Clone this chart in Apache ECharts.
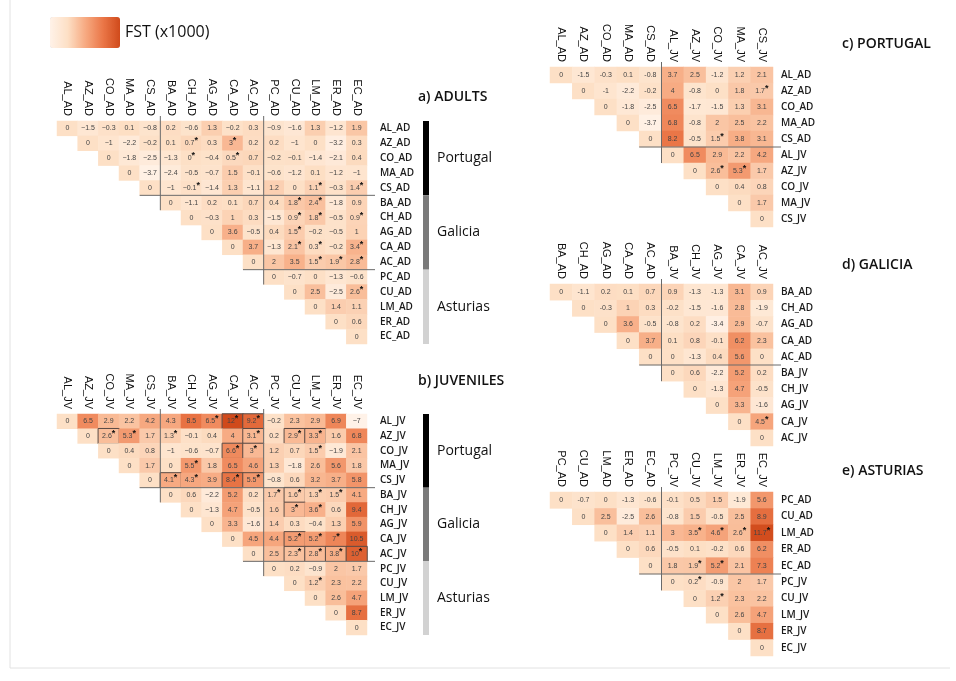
<!DOCTYPE html>
<html><head><meta charset="utf-8">
<script src="https://cdn.jsdelivr.net/npm/echarts@6/dist/echarts.min.js"></script>
<style>html,body{margin:0;padding:0;background:#fff}#c{width:956px;height:681px}</style>
</head><body><div id="c"></div>
<script>
// ---------- DATA ----------
const adultsLabels = ['AL_AD','AZ_AD','CO_AD','MA_AD','CS_AD','BA_AD','CH_AD','AG_AD','CA_AD','AC_AD','PC_AD','CU_AD','LM_AD','ER_AD','EC_AD'];
const adultsRows = [
  [0,-1.5,-0.3,0.1,-0.8,0.2,-0.6,1.3,-0.2,0.3,-0.9,-1.6,1.3,-1.2,1.9],
  [0,-1,-2.2,-0.2,0.1,0.7,0.3,3,0.2,0.2,-1,0,-3.2,0.3],
  [0,-1.8,-2.5,-1.3,0,-0.4,0.5,0.7,-0.2,-0.1,-1.4,-2.1,0.4],
  [0,-3.7,-2.4,-0.5,-0.7,1.5,-0.1,-0.6,-1.2,0.1,-1.2,-1],
  [0,-1,-0.1,-1.4,1.3,-1.1,1.2,0,1.1,-0.3,1.4],
  [0,-1.1,0.2,0.1,0.7,0.4,1.8,2.4,-1.8,0.9],
  [0,-0.3,1,0.3,-1.5,0.9,1.8,-0.5,0.9],
  [0,3.6,-0.5,0.4,1.5,-0.2,-0.5,1],
  [0,3.7,-1.3,2.1,0.3,-0.2,3.4],
  [0,2,3.5,1.5,1.9,2.8],
  [0,-0.7,0,-1.3,-0.6],
  [0,2.5,-2.5,2.6],
  [0,1.4,1.1],
  [0,0.6],
  [0]
];
const adultsStars = ['AZ_AD|CH_AD','AZ_AD|CA_AD','CO_AD|CH_AD','CO_AD|CA_AD','CS_AD|CH_AD','CS_AD|LM_AD','CS_AD|EC_AD',
  'BA_AD|CU_AD','BA_AD|LM_AD','CH_AD|CU_AD','CH_AD|LM_AD','CH_AD|EC_AD','AG_AD|CU_AD','CA_AD|CU_AD','CA_AD|LM_AD','CA_AD|EC_AD',
  'AC_AD|LM_AD','AC_AD|ER_AD','AC_AD|EC_AD','CU_AD|EC_AD'];

const juvLabels = ['AL_JV','AZ_JV','CO_JV','MA_JV','CS_JV','BA_JV','CH_JV','AG_JV','CA_JV','AC_JV','PC_JV','CU_JV','LM_JV','ER_JV','EC_JV'];
const juvRows = [
  [0,6.5,2.9,2.2,4.2,4.3,8.5,6.5,12,9.2,-0.2,2.3,2.9,6.9,-7],
  [0,2.6,5.3,1.7,1.3,-0.1,0.4,4,3.1,0.2,2.9,3.3,1.6,6.8],
  [0,0.4,0.8,-1,-0.6,-0.7,6.6,3,1.2,0.7,1.5,-1.9,2.1],
  [0,1.7,0,5.5,1.8,6.5,4.6,1.3,-1.8,2.6,5.6,1.8],
  [0,4.1,4.3,3.9,8.4,5.5,-0.8,0.6,3.2,3.7,5.8],
  [0,0.6,-2.2,5.2,0.2,1.7,1.6,1.3,1.5,4.1],
  [0,-1.3,4.7,-0.5,1.6,3,3.6,0.6,9.4],
  [0,3.3,-1.6,1.4,0.3,-0.4,1.3,5.9],
  [0,4.5,4.4,5.2,5.2,7,10.5],
  [0,2.5,2.3,2.8,3.8,10],
  [0,0.2,-0.9,2,1.7],
  [0,1.2,2.3,2.2],
  [0,2.6,4.7],
  [0,8.7],
  [0]
];
const juvStars = ['AL_JV|AG_JV','AL_JV|CA_JV','AL_JV|AC_JV','AZ_JV|CO_JV','AZ_JV|MA_JV','AZ_JV|BA_JV','AZ_JV|AC_JV','AZ_JV|CU_JV','AZ_JV|LM_JV',
  'CO_JV|CA_JV','CO_JV|AC_JV','CO_JV|LM_JV','MA_JV|CH_JV','CS_JV|BA_JV','CS_JV|CH_JV','CS_JV|CA_JV','CS_JV|AC_JV',
  'BA_JV|PC_JV','BA_JV|CU_JV','BA_JV|LM_JV','BA_JV|ER_JV','CH_JV|CU_JV','CH_JV|LM_JV','CA_JV|CU_JV','CA_JV|LM_JV','CA_JV|ER_JV',
  'AC_JV|CU_JV','AC_JV|LM_JV','AC_JV|ER_JV','AC_JV|EC_JV','CU_JV|LM_JV'];
const juvBoxed = ['AL_JV|CA_JV','AL_JV|AC_JV','AZ_JV|CO_JV','AZ_JV|AC_JV','AZ_JV|CU_JV','AZ_JV|LM_JV','CO_JV|CA_JV','CO_JV|AC_JV',
  'CS_JV|BA_JV','CS_JV|CA_JV','CS_JV|AC_JV','BA_JV|CU_JV','CH_JV|CU_JV','CA_JV|CU_JV','AC_JV|CU_JV','AC_JV|LM_JV','AC_JV|ER_JV','AC_JV|EC_JV'];

const portLabels = ['AL_AD','AZ_AD','CO_AD','MA_AD','CS_AD','AL_JV','AZ_JV','CO_JV','MA_JV','CS_JV'];
const portRows = [
  [0,-1.5,-0.3,0.1,-0.8,3.7,2.5,-1.2,1.2,2.1],
  [0,-1,-2.2,-0.2,4,-0.8,0,1.8,1.7],
  [0,-1.8,-2.5,6.5,-1.7,-1.5,1.3,3.1],
  [0,-3.7,6.8,-0.8,2,2.5,2.2],
  [0,8.2,-0.5,1.5,3.8,3.1],
  [0,6.5,2.9,2.2,4.2],
  [0,2.6,5.3,1.7],
  [0,0.4,0.8],
  [0,1.7],
  [0]
];
const portStars = ['AZ_AD|CS_JV','CS_AD|CO_JV','AZ_JV|CO_JV','AZ_JV|MA_JV'];

const galLabels = ['BA_AD','CH_AD','AG_AD','CA_AD','AC_AD','BA_JV','CH_JV','AG_JV','CA_JV','AC_JV'];
const galRows = [
  [0,-1.1,0.2,0.1,0.7,0.9,-1.3,-1.3,3.1,0.9],
  [0,-0.3,1,0.3,-0.2,-1.5,-1.6,2.8,-1.9],
  [0,3.6,-0.5,-0.8,0.2,-3.4,2.9,-0.7],
  [0,3.7,0.1,0.8,-0.1,6.2,2.3],
  [0,0,-1.3,0.4,5.6,0],
  [0,0.6,-2.2,5.2,0.2],
  [0,-1.3,4.7,-0.5],
  [0,3.3,-1.6],
  [0,4.5],
  [0]
];
const galStars = ['CA_JV|AC_JV'];

const astLabels = ['PC_AD','CU_AD','LM_AD','ER_AD','EC_AD','PC_JV','CU_JV','LM_JV','ER_JV','EC_JV'];
const astRows = [
  [0,-0.7,0,-1.3,-0.6,-0.1,0.5,1.5,-1.9,5.6],
  [0,2.5,-2.5,2.6,-0.8,1.5,-0.5,2.5,8.9],
  [0,1.4,1.1,3,3.5,4.6,2.6,11.7],
  [0,0.6,-0.5,0.1,-0.2,0.6,6.2],
  [0,1.8,1.9,5.2,2.1,7.3],
  [0,0.2,-0.9,2,1.7],
  [0,1.2,2.3,2.2],
  [0,2.6,4.7],
  [0,8.7],
  [0]
];
const astStars = ['LM_AD|CU_JV','LM_AD|LM_JV','LM_AD|ER_JV','LM_AD|EC_JV','EC_AD|CU_JV','EC_AD|LM_JV','PC_JV|CU_JV','CU_JV|LM_JV'];

const groupNames = ['Portugal','Galicia','Asturias'];
const groupSizesBig = [5,5,5];
const groupSizesSmall = [5,5];
const panelTitles = ['a) ADULTS','b) JUVENILES','c) PORTUGAL','d) GALICIA','e) ASTURIAS'];
const legendTitle = 'FST (x1000)';

// ---------- BUILD ----------
const panels = [
  {labels: adultsLabels, rows: adultsRows, stars: adultsStars, boxed: [], groups: groupSizesBig, minus:'\u2212',
   grid:{left:57, top:121, width:310, height:223}, fs:7},
  {labels: juvLabels, rows: juvRows, stars: juvStars, boxed: juvBoxed, groups: groupSizesBig, minus:'\u2212',
   grid:{left:57, top:414, width:310, height:221}, fs:7},
  {labels: portLabels, rows: portRows, stars: portStars, boxed: [], groups: groupSizesSmall, minus:'-',
   grid:{left:550, top:67, width:223, height:160}, fs:7},
  {labels: galLabels, rows: galRows, stars: galStars, boxed: [], groups: groupSizesSmall, minus:'-',
   grid:{left:550, top:284, width:223, height:162}, fs:7},
  {labels: astLabels, rows: astRows, stars: astStars, boxed: [], groups: groupSizesSmall, minus:'-',
   grid:{left:550, top:492, width:223, height:164}, fs:7}
];

const grids=[], xAxes=[], yAxes=[], series=[], heatIdx=[];
panels.forEach((p,pi)=>{
  grids.push(Object.assign({containLabel:false}, p.grid));
  xAxes.push({type:'category', gridIndex:pi, data:p.labels, position:'top',
    axisLine:{show:false}, axisTick:{show:false}, splitLine:{show:false},
    axisLabel:{rotate:90, interval:0, margin:5, fontSize:11, color:'#111', fontFamily:'Liberation Sans'}});
  yAxes.push({type:'category', gridIndex:pi, data:p.labels, inverse:true, position:'right',
    axisLine:{show:false}, axisTick:{show:false}, splitLine:{show:false},
    axisLabel:{interval:0, margin: pi<2?13:8, fontSize:10, fontWeight:600, color:'#1a1a1a', fontFamily:'Open Sans'}});
  const data=[];
  p.rows.forEach((row,i)=>{
    row.forEach((v,j)=>{
      const c=i+j;
      const key=p.labels[i]+'|'+p.labels[c];
      const item={value:[c,i,v,p.stars.includes(key)?1:0]};
      if(p.boxed.includes(key)) item.itemStyle={borderColor:'#5a4a44', borderWidth:1};
      data.push(item);
    });
  });
  heatIdx.push(series.length);
  series.push({type:'heatmap', xAxisIndex:pi, yAxisIndex:pi, data:data, emphasis:{disabled:true},
    label:{show:true, formatter:(q)=>{
      const s=String(q.value[2]).replace('-',p.minus);
      return q.value[3]?('{v|'+s+'}{s|*}'):('{v|'+s+'}');
    }, rich:{v:{fontSize:p.fs, color:'#444', fontFamily:'Liberation Sans'},
             s:{fontSize:9, fontWeight:'bold', color:'#111', padding:[0,0,5,0]}}}});
  const bounds=[]; let acc=0;
  p.groups.slice(0,-1).forEach(g=>{acc+=g; bounds.push(acc);});
  series.push({type:'custom', xAxisIndex:pi, yAxisIndex:pi, silent:true, clip:false, z:5,
    data:bounds.map(b=>[b,b]),
    renderItem:(params,api)=>{
      const k=api.value(0);
      const c=api.coord([k,k]); const sz=api.size([1,1]);
      const cs=params.coordSys;
      const xb=c[0]-sz[0]/2, yb=c[1]-sz[1]/2;
      const st={stroke:'#6a6a6a', lineWidth:1};
      return {type:'group', children:[
        {type:'line', shape:{x1:xb,y1:cs.y-5,x2:xb,y2:yb+sz[1]}, style:st},
        {type:'line', shape:{x1:xb-sz[0],y1:yb,x2:cs.x+cs.width+8,y2:yb}, style:st}
      ]};
    }});
  if(pi<2){
    const gdata=[]; let st0=0;
    p.groups.forEach((g,gi)=>{gdata.push([st0, st0+g-1, gi]); st0+=g;});
    const cols=['#000000','#7a7a7a','#d2d2d2'];
    series.push({type:'custom', xAxisIndex:pi, yAxisIndex:pi, silent:true, clip:false, z:5,
      data:gdata,
      renderItem:(params,api)=>{
        const a=api.value(0), b=api.value(1), gi=api.value(2);
        const sz=api.size([1,1]);
        const t=api.coord([0,a])[1]-sz[1]/2, bt=api.coord([0,b])[1]+sz[1]/2;
        const cs=params.coordSys; const x=cs.x+cs.width+56;
        return {type:'group', children:[
          {type:'rect', shape:{x:x, y:t, width:6, height:bt-t}, style:{fill:cols[gi]}},
          {type:'text', style:{text:groupNames[gi], x:x+14, y:(t+bt)/2, verticalAlign:'middle', align:'left',
            fontSize:14, fontFamily:'Open Sans', fill:'#111'}}
        ]};
      }});
  }
});

const titlePos=[[418,90],[418,374],[842,37],[842,258],[842,464]];
const option={
  animation:false,
  backgroundColor:'#fff',
  title: panelTitles.map((t,i)=>({text:t, left:titlePos[i][0], top:titlePos[i][1], padding:0,
    textStyle:{fontSize:14, fontWeight:600, fontFamily:'Open Sans', color:'#111'}})),
  grid:grids, xAxis:xAxes, yAxis:yAxes,
  visualMap:{type:'continuous', seriesIndex:heatIdx, dimension:2, min:-4, max:12, orient:'horizontal',
    left:50, top:17, padding:0, itemWidth:31, itemHeight:70, calculable:false, text:[legendTitle], textGap:5,
    textStyle:{fontSize:16, fontWeight:500, fontFamily:'Open Sans', color:'#111'},
    inRange:{color:['#fff2e8','#fde0c6','#f7ab83','#eb7849','#d04a1b']}},
  graphic:[{type:'polyline', shape:{points:[[10,0],[10,668],[950,668]]}, style:{stroke:'#e2e2e2', fill:null, lineWidth:1}, silent:true}],
  series:series
};
const chart=echarts.init(document.getElementById('c'), null, {renderer:'canvas'});
chart.setOption(option);
</script></body></html>
